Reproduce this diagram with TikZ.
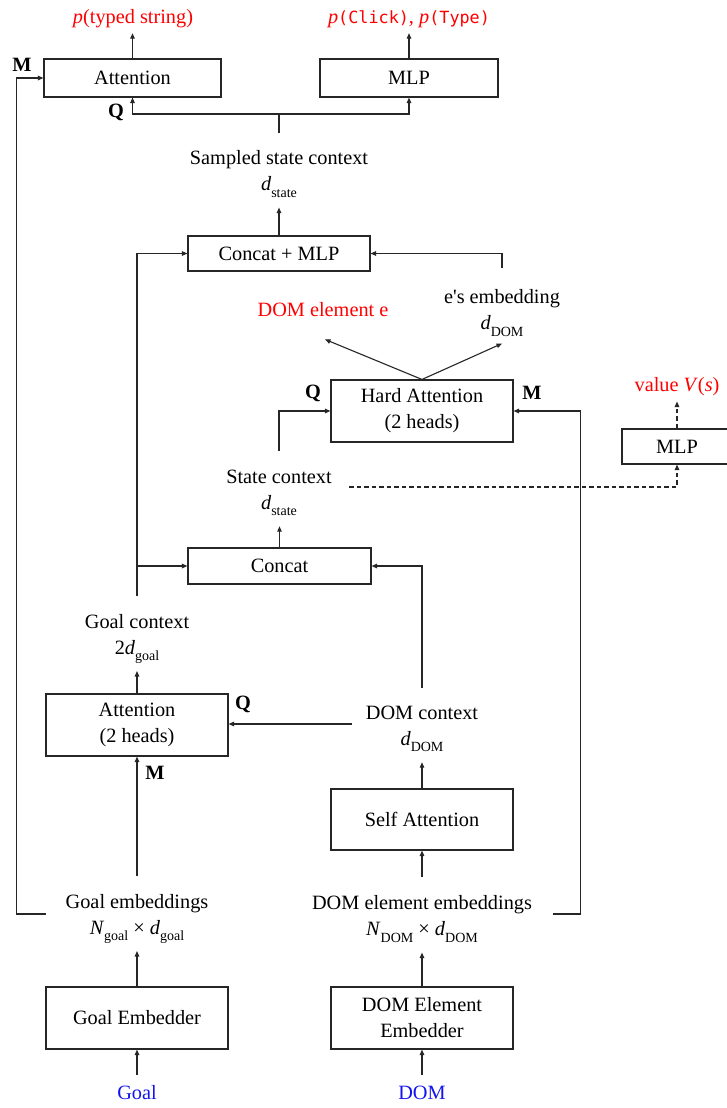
\documentclass[tikz,border=0pt]{standalone}
\usepackage{fontspec}
\setmainfont{Liberation Serif}
\newfontfamily\monof{DejaVu Sans Mono}
\usetikzlibrary{arrows.meta}
\newcommand\sbs[1]{\raisebox{-6.5pt}{\fontsize{14}{14}\selectfont #1}}
\newcommand\lblfont{\fontsize{20.3}{26}\selectfont}
\newcommand\mono[1]{{\monof\fontsize{16.8}{16.8}\selectfont #1}}
\definecolor{lineg}{gray}{0.15}
\definecolor{outred}{RGB}{255,0,0}
\definecolor{inblue}{RGB}{20,20,240}
\begin{document}
\begin{tikzpicture}[x=1pt,y=-1pt,
  box/.style={draw=lineg, line width=1.1pt, inner sep=0pt, align=center, font=\lblfont},
  lbl/.style={inner sep=0pt, align=center, font=\lblfont},
  arr/.style={draw=lineg, line width=1.1pt, -{Triangle[length=5.5pt,width=4.5pt]}},
  ln/.style={draw=lineg, line width=1.1pt},
  darr/.style={arr, dash pattern=on 4.5pt off 3pt},
  bl/.style={font=\lblfont\bfseries, inner sep=0pt}]
\useasboundingbox[fill=white] (0,0) rectangle (727,1108);

% top row
\node[box, minimum width=177pt, minimum height=38pt] (attTop) at (132.5,78) {Attention};
\node[box, minimum width=178pt, minimum height=38pt] (mlpTop) at (409,78) {MLP};
\node[lbl, text=outred, anchor=base] (outAtt) at (133,24) {\textit{p}(typed string)};
\node[lbl, text=outred, anchor=base] (outMlp) at (409,24) {\textit{p}\mono{(Click)}, \textit{p}\mono{(Type)}};
\node[bl] (m1) at (22,65) {M};
\node[bl] (q1) at (116,112) {Q};
\coordinate (qj) at (279,114);

% sampled state
\node[lbl] (sampled) at (279,174) {Sampled state context\\\textit{d}\sbs{state}};
\node[box, minimum width=182pt, minimum height=35pt] (cmlp) at (279,253.5) {Concat + MLP};
\node[lbl, text=outred, anchor=base] (domE) at (323,316) {DOM element e};
\node[lbl] (eEmb) at (502,313) {e\textquotesingle s embedding\\\textit{d}\sbs{DOM}};
\node[box, minimum width=182pt, minimum height=62pt] (hard) at (422,411) {Hard Attention\\(2 heads)};
\node[bl] (q2) at (313,393) {Q};
\node[bl] (m2) at (532,393) {M};
\node[lbl, text=outred, anchor=base] (value) at (677,391) {value \textit{V}(\textit{s})};
\node[box, minimum width=110pt, minimum height=35pt] (mlpV) at (677,446.5) {MLP};

% state context
\node[lbl] (stateCtx) at (279,493) {State context\\\textit{d}\sbs{state}};
\node[box, minimum width=183pt, minimum height=36pt] (concat) at (279.5,566) {Concat};
\node[lbl] (goalCtx) at (137,639) {Goal context\\2\textit{d}\sbs{goal}};
\node[box, minimum width=182pt, minimum height=62pt] (att2) at (137,725) {Attention\\(2 heads)};
\node[bl] (q3) at (243,704) {Q};
\node[lbl] (domCtx) at (422,729) {DOM context\\\textit{d}\sbs{DOM}};
\node[box, minimum width=182pt, minimum height=61pt] (self) at (422,819.5) {Self Attention};
\node[bl] (m3) at (155,773) {M};

% embeddings
\node[lbl] (gembL) at (137,919) {Goal embeddings\\\textit{N}\sbs{goal} × \textit{d}\sbs{goal}};
\node[lbl] (dembL) at (422,919) {DOM element embeddings\\\textit{N}\sbs{DOM} × \textit{d}\sbs{DOM}};
\node[box, minimum width=182pt, minimum height=62pt] (gemb) at (137,1018) {Goal Embedder};
\node[box, minimum width=182pt, minimum height=62pt] (demb) at (422,1018) {DOM Element\\Embedder};
\node[lbl, text=inblue, anchor=base] (goalIn) at (137,1099) {Goal};
\node[lbl, text=inblue, anchor=base] (domIn) at (422,1099) {DOM};
\coordinate (mL) at (46,914);
\coordinate (mR) at (553,914);

% connectors
\draw[arr, shorten >=4.6pt] (attTop.north) -- (attTop.north |- outAtt.south);
\draw[arr, shorten >=4.6pt] (mlpTop.north) -- (mlpTop.north |- outMlp.south);
\draw[arr] (mL) -| ([xshift=-27pt]attTop.west) -- (attTop.west);
\draw[ln] ([yshift=17pt]sampled.north) -- (qj);
\draw[arr] (qj) -| (attTop.south);
\draw[arr] (qj) -| (mlpTop.south);
\draw[arr, shorten >=10pt] (cmlp.north) -- (cmlp.north |- sampled.south);
\draw[arr] ([yshift=18pt]goalCtx.north) |- (cmlp.west);
\draw[arr] ([yshift=18pt]goalCtx.north) |- (concat.west);
\draw[arr] ([yshift=21pt]eEmb.north) |- (cmlp.east);
\draw[arr] (hard.north) -- ([xshift=2pt,yshift=-23pt]domE.south);
\draw[arr] (hard.north) -- ([yshift=-7pt]eEmb.south);
\draw[arr] ([yshift=19pt]stateCtx.north) |- (hard.west);
\draw[arr] (mR) -| ([xshift=67pt]hard.east) -- (hard.east);
\draw[darr] ([xshift=17.5pt,yshift=6pt]stateCtx.east) -| (mlpV.south);
\draw[darr, shorten >=6pt] (mlpV.north) -- (value.south);
\draw[arr, shorten >=10pt] (concat.north) -- (concat.north |- stateCtx.south);
\draw[arr] ([yshift=18pt]domCtx.north) |- (concat.east);
\draw[arr, shorten >=7pt] (att2.north) -- (att2.north |- goalCtx.south);
\draw[arr] ([xshift=-14pt,yshift=5pt]domCtx.west) -- ([yshift=5pt]domCtx.west -| att2.east);
\draw[arr, shorten >=10pt] (self.north) -- (domCtx.south);
\draw[arr] ([yshift=18pt]gembL.north) -- (att2.south);
\draw[arr] ([yshift=18pt]dembL.north) -- (self.south);
\draw[arr, shorten >=7pt] (gemb.north) -- (gembL.south);
\draw[arr, shorten >=10pt] (demb.north) -- (dembL.south);
\draw[arr] ([yshift=10pt]goalIn.north) -- (gemb.south);
\draw[arr] ([yshift=10pt]domIn.north) -- (demb.south);
\end{tikzpicture}
\end{document}
